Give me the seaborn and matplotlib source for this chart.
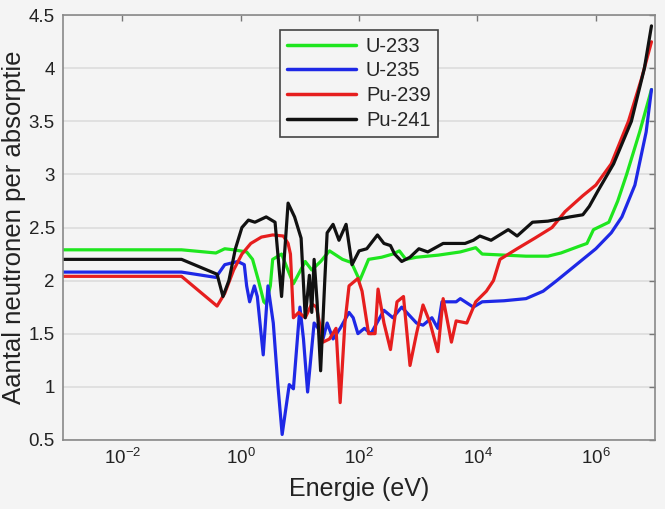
import numpy as np
import pandas as pd
import matplotlib
matplotlib.use("Agg")
import matplotlib.pyplot as plt
import seaborn as sns
from matplotlib.ticker import FixedLocator, NullLocator

# ---- data (log10 of energy in eV, value) ----
u233_logE = [-3, -1.0, -0.42, -0.27, -0.12, 0.1, 0.2, 0.3, 0.39, 0.43, 0.5, 0.54, 0.69, 0.89, 1.09, 1.2, 1.35, 1.5,
             1.72, 1.87, 2.01, 2.16, 2.38, 2.57, 2.68, 2.79, 2.97, 3.34, 3.71, 3.97, 4.08, 4.45, 4.82, 5.19, 5.41,
             5.7, 5.85, 5.96, 6.22, 6.37, 6.52, 6.74, 6.94]
u233_nu = [2.29, 2.29, 2.26, 2.30, 2.29, 2.27, 2.2, 2.0, 1.8, 1.78, 1.95, 2.2, 2.25, 1.97, 2.18, 2.1, 2.18, 2.28,
           2.2, 2.17, 2.0, 2.2, 2.22, 2.25, 2.28, 2.2, 2.22, 2.24, 2.27, 2.31, 2.25, 2.24, 2.23, 2.23, 2.26,
           2.32, 2.35, 2.48, 2.55, 2.75, 3.0, 3.4, 3.8]

u235_logE = [-3, -1.0, -0.42, -0.27, -0.05, 0.06, 0.1, 0.15, 0.23, 0.28, 0.38, 0.46, 0.55, 0.63, 0.70, 0.82, 0.89,
             1.0, 1.06, 1.13, 1.24, 1.31, 1.39, 1.46, 1.56, 1.68, 1.83, 1.9, 1.98, 2.09, 2.2, 2.42, 2.57, 2.72,
             2.97, 3.08, 3.23, 3.33, 3.4, 3.64, 3.71, 3.93, 4.08, 4.45, 4.82, 5.11, 5.34, 5.56, 5.78, 6.0, 6.26,
             6.44, 6.66, 6.85, 6.94]
u235_nu = [2.08, 2.08, 2.03, 2.15, 2.18, 2.15, 1.95, 1.8, 1.95, 1.85, 1.3, 1.95, 1.6, 1.0, 0.55, 1.02, 0.98,
           1.75, 1.45, 0.95, 1.6, 1.55, 1.45, 1.6, 1.45, 1.55, 1.7, 1.65, 1.5, 1.55, 1.5, 1.72, 1.65, 1.75,
           1.6, 1.58, 1.65, 1.55, 1.8, 1.8, 1.83, 1.75, 1.8, 1.81, 1.83, 1.9, 2.0, 2.1, 2.2, 2.3, 2.45,
           2.6, 2.9, 3.4, 3.8]

pu239_logE = [-3, -1.0, -0.4, -0.27, -0.12, 0.02, 0.17, 0.35, 0.54, 0.72, 0.80, 0.84, 0.89, 0.98, 1.09, 1.2, 1.28,
              1.39, 1.5, 1.61, 1.68, 1.76, 1.83, 1.98, 2.05, 2.16, 2.27, 2.32, 2.42, 2.53, 2.64, 2.75, 2.86,
              2.97, 3.08, 3.2, 3.33, 3.42, 3.56, 3.64, 3.82, 3.97, 4.15, 4.27, 4.38, 4.67, 4.97, 5.26, 5.48,
              5.78, 6.0, 6.26, 6.55, 6.77, 6.94]
pu239_nu = [2.04, 2.04, 1.76, 1.88, 2.1, 2.25, 2.35, 2.41, 2.43, 2.42, 2.35, 2.25, 1.65, 1.7, 1.65, 1.78, 1.75,
            1.42, 1.45, 1.55, 0.85, 1.6, 1.95, 2.02, 1.9, 1.5, 1.5, 1.92, 1.6, 1.35, 1.8, 1.85, 1.2,
            1.5, 1.77, 1.6, 1.33, 1.83, 1.42, 1.62, 1.6, 1.8, 1.9, 2.0, 2.2, 2.3, 2.4, 2.5, 2.65,
            2.8, 2.9, 3.1, 3.5, 3.9, 4.25]

pu241_logE = [-3, -1.0, -0.4, -0.3, -0.2, -0.09, 0.02, 0.13, 0.24, 0.43, 0.58, 0.69, 0.80, 0.91, 1.02, 1.09, 1.16,
              1.2, 1.24, 1.29, 1.35, 1.42, 1.46, 1.56, 1.66, 1.78, 1.88, 2.0, 2.13, 2.31, 2.42, 2.53, 2.6, 2.72,
              2.86, 3.01, 3.16, 3.42, 3.79, 3.93, 4.04, 4.23, 4.52, 4.67, 4.93, 5.19, 5.56, 5.78, 5.89, 6.04,
              6.30, 6.6, 6.82, 6.94]
pu241_nu = [2.2, 2.2, 2.06, 1.85, 2.0, 2.3, 2.5, 2.57, 2.55, 2.6, 2.55, 1.85, 2.73, 2.6, 2.4, 1.65, 2.05,
            1.7, 2.2, 1.8, 1.15, 2.0, 2.45, 2.53, 2.38, 2.53, 2.15, 2.28, 2.3, 2.43, 2.35, 2.33, 2.25, 2.18,
            2.22, 2.3, 2.27, 2.35, 2.35, 2.38, 2.42, 2.38, 2.48, 2.42, 2.55, 2.56, 2.6, 2.62, 2.7, 2.85,
            3.1, 3.5, 4.0, 4.4]

series_names = ["U-233", "U-235", "Pu-239", "Pu-241"]
series_colors = ["#1ee61e", "#1e28e6", "#e61e1e", "#111111"]
x_ticks = [1e-2, 1e0, 1e2, 1e4, 1e6]
y_ticks = [0.5, 1, 1.5, 2, 2.5, 3, 3.5, 4, 4.5]

frames = []
for name, lx, ny in zip(series_names,
                        [u233_logE, u235_logE, pu239_logE, pu241_logE],
                        [u233_nu, u235_nu, pu239_nu, pu241_nu]):
    frames.append(pd.DataFrame({"E": np.power(10.0, lx), "nu": ny, "isotope": name}))
df = pd.concat(frames, ignore_index=True)

sns.set_theme(style="white")
plt.rcParams["font.family"] = ["Liberation Sans", "DejaVu Sans"]
bg = "#f4f4f4"
fig = plt.figure(figsize=(6.65, 5.09), dpi=100, facecolor=bg)
ax = fig.add_axes([0.095, 0.136, 0.89, 0.834])
ax.set_facecolor(bg)

sns.lineplot(data=df, x="E", y="nu", hue="isotope", hue_order=series_names,
             palette=dict(zip(series_names, series_colors)), sort=False,
             linewidth=2.3, ax=ax, estimator=None)

ax.set_xscale("log")
ax.set_xlim(1e-3, 1e7)
ax.set_ylim(0.5, 4.5)
ax.xaxis.set_major_locator(FixedLocator(x_ticks))
ax.xaxis.set_minor_locator(NullLocator())
ax.yaxis.set_major_locator(FixedLocator(y_ticks))
ax.set_yticklabels([f"{v:g}" for v in y_ticks])
ax.grid(axis="y", color="#dcdcdc", linewidth=1.2)
ax.set_axisbelow(True)
ax.tick_params(axis="both", direction="in", length=4, width=1, color="#777777",
               labelsize=13.5, labelcolor="#222222", top=True, right=True, pad=6)
for s in ax.spines.values():
    s.set_color("#888888")
    s.set_linewidth(1.2)

ax.set_xlabel("Energie (eV)", fontsize=18, color="#222222", labelpad=6)
ax.set_ylabel("Aantal neutronen per absorptie", fontsize=18.5, color="#222222", labelpad=2)

leg = ax.legend(loc="upper center", bbox_to_anchor=(0.5, 0.99), fontsize=14.5, frameon=True,
                fancybox=False, edgecolor="#444444", facecolor=bg, framealpha=1,
                handlelength=3.4, labelspacing=0.28, borderpad=0.35, handletextpad=0.5)
leg.get_frame().set_linewidth(1.2)
for line in leg.get_lines():
    line.set_linewidth(2.5)

fig.savefig("out.png", dpi=100, facecolor=bg)
